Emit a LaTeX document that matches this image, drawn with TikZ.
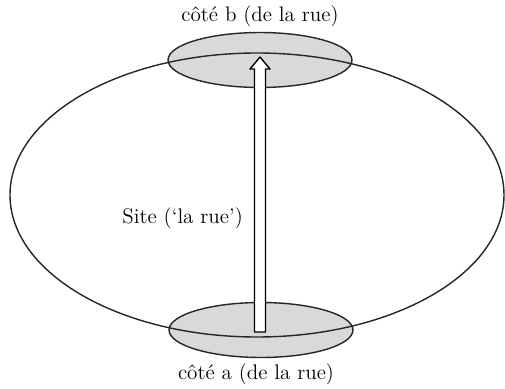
\documentclass[tikz,border=0pt]{standalone}
\usepackage{amsmath,amssymb}
\usepackage{xcolor}
\usepackage{tikz}
\usetikzlibrary{arrows.meta,calc,shapes.geometric}

\begin{document}
\begin{tikzpicture}[x=0.02cm,y=-0.02cm,line join=round,
    zone/.style={ellipse,draw=black!85,line width=0.8pt,fill=gray!30,
      minimum width=3.68cm,minimum height=1.1cm,inner sep=0pt},
    label/.style={font=\fontsize{12}{14}\selectfont,inner sep=1pt}]
  \useasboundingbox (0,0) rectangle (505,389);
  \coordinate (S) at (257,195);
  \node[zone] (sideB) at (260,60) {};
  \node[zone] (sideA) at (261,330) {};
  \draw[line width=0.8pt,black!85] (S) ellipse [x radius=247,y radius=142];
  \coordinate (base) at (260,332);
  \coordinate (neck) at (260,69);
  \coordinate (tip) at (260,57);
  \draw[line width=0.8pt,fill=white] ($(base)+(-5.5,0)$) -- ($(neck)+(-5.5,0)$)
    -- ($(neck)+(-10,0)$) -- (tip) -- ($(neck)+(10,0)$) -- ($(neck)+(5.5,0)$)
    -- ($(base)+(5.5,0)$) -- cycle;
  \node[label] (labB) at (260,16) {côté b (de la rue)};
  \node[label] (labA) at (256,374) {côté a (de la rue)};
  \node[label,anchor=east] (labS) at (245,218) {Site (`la rue')};
\end{tikzpicture}
\end{document}
